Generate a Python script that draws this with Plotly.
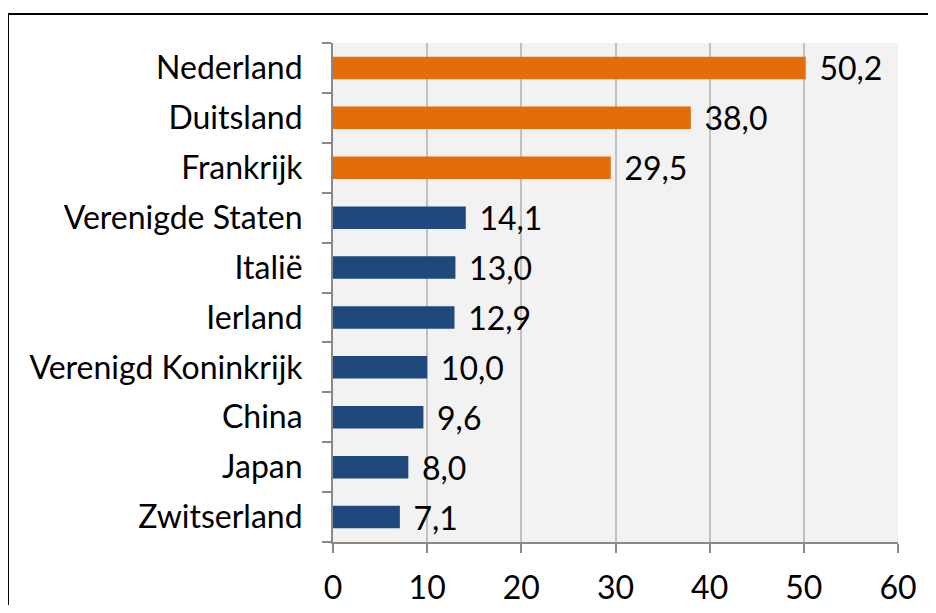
import plotly.graph_objects as go

categories = ["Nederland", "Duitsland", "Frankrijk", "Verenigde Staten", "Italië",
              "Ierland", "Verenigd Koninkrijk", "China", "Japan", "Zwitserland"]
values = [50.2, 38.0, 29.5, 14.1, 13.0, 12.9, 10.0, 9.6, 8.0, 7.1]
colors = ["#E46C0A"] * 3 + ["#1F497D"] * 7
x_ticks = [0, 10, 20, 30, 40, 50, 60]

labels = ["\u2004" + f"{v:.1f}".replace(".", ",") for v in values]

FS = 32

fig = go.Figure(go.Bar(
    y=categories, x=values, orientation="h",
    marker=dict(color=colors, line=dict(width=0)),
    width=0.45,
    text=labels, textposition="outside", constraintext="none",
    textfont=dict(family="Lato", size=FS, color="#000000"),
    cliponaxis=False,
))

W, H = 920, 597
L, R, T, B = 325, 30, 35, 63
pw, ph = W - L - R, H - T - B

fig.update_layout(
    width=W, height=H,
    margin=dict(l=L, r=R, t=T, b=B, pad=0, autoexpand=False),
    paper_bgcolor="white", plot_bgcolor="#F2F2F2",
    font=dict(family="Lato", size=FS, color="#000000"),
    showlegend=False,
    xaxis=dict(range=[0, 60], tickvals=x_ticks, ticktext=[str(t) for t in x_ticks],
               showgrid=True, gridcolor="#C0C0C0", gridwidth=2,
               zeroline=False, showline=True, linecolor="#898989", linewidth=2,
               ticks="outside", ticklen=9, tickwidth=2, tickcolor="#898989",
               ticklabelstandoff=8, fixedrange=True, automargin=False),
    yaxis=dict(categoryorder="array", categoryarray=categories[::-1],
               showgrid=False, zeroline=False, showline=True,
               linecolor="#898989", linewidth=2,
               ticks="outside", ticklen=9, tickwidth=2, tickcolor="#898989",
               tickson="boundaries", ticklabelstandoff=22, fixedrange=True,
               automargin=False),
    shapes=[dict(type="rect", xref="paper", yref="paper",
                 x0=(0 - L) / pw, x1=(W + 20 - L) / pw,
                 y0=(H - B - (H + 20)) / ph, y1=(H - B - 6) / ph,
                 line=dict(color="#000000", width=2), fillcolor="rgba(0,0,0,0)",
                 layer="below")],
)

fig.write_html("out.html")
